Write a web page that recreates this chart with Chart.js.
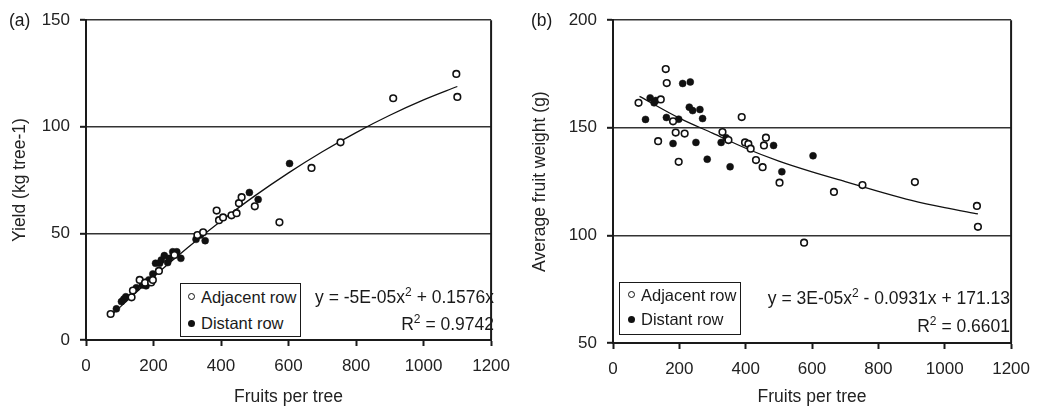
<!DOCTYPE html>
<html><head><meta charset="utf-8">
<script src="https://cdn.jsdelivr.net/npm/chart.js@4/dist/chart.umd.min.js"></script>
<style>
html,body{margin:0;padding:0;background:#fff;}
body{width:1040px;height:414px;position:relative;overflow:hidden;font-family:"Liberation Sans",Arial,sans-serif;color:#1a1a1a;}
canvas{position:absolute;top:0;}
.t{position:absolute;white-space:nowrap;line-height:1;font-size:16.5px;}
.eq{font-size:17.5px;}
.box{position:absolute;border:1.5px solid #1a1a1a;background:#fff;box-sizing:border-box;}
.mk{position:absolute;width:7px;height:7px;border-radius:50%;box-sizing:border-box;}
.op{border:1.5px solid #111;background:#fff;}
.fi{background:#111;}
sup{font-size:12px;vertical-align:0;position:relative;top:-7px;}
</style>
</head><body>
<canvas id="ca" width="520" height="414" style="left:0"></canvas>
<canvas id="cb" width="520" height="414" style="left:520px"></canvas>

<div class="t" style="left:9px;top:12px;font-size:17.5px">(a)</div>
<div class="t" style="left:531px;top:12px;font-size:17.5px">(b)</div>

<div class="box" style="left:180px;top:283px;width:121px;height:54px"></div>
<div class="mk op" style="left:188px;top:293px"></div>
<div class="t" style="left:201px;top:289px">Adjacent row</div>
<div class="mk fi" style="left:188px;top:320px"></div>
<div class="t" style="left:201px;top:315px">Distant row</div>

<div class="box" style="left:619px;top:282px;width:122px;height:53px"></div>
<div class="mk op" style="left:628px;top:291px"></div>
<div class="t" style="left:641px;top:287px">Adjacent row</div>
<div class="mk fi" style="left:628px;top:316px"></div>
<div class="t" style="left:641px;top:311px">Distant row</div>

<div class="t eq" style="right:546px;top:289px;text-align:right">y = -5E-05x<sup>2</sup> + 0.1576x</div>
<div class="t eq" style="right:546px;top:316px;text-align:right">R<sup>2</sup> = 0.9742</div>
<div class="t eq" style="right:30px;top:290px;text-align:right">y = 3E-05x<sup>2</sup> - 0.0931x + 171.13</div>
<div class="t eq" style="right:30px;top:318px;text-align:right">R<sup>2</sup> = 0.6601</div>

<script>
// ---- Panel (a): Yield vs fruits per tree ----
const leftAdjX = [73,135,139,159,175,193,198,216,262,330,347,387,394,406,431,446,453,461,500,573,668,754,910,1097,1100];
const leftAdjY = [12.2,20,23.2,28.2,26.9,27,28.2,32.4,39.9,49.2,50.5,60.7,56.2,57.5,58.5,59.5,64.2,67,62.7,55.2,80.7,92.7,113.4,124.8,114];
const leftDistX = [90,105,112,118,149,167,178,186,198,206,218,223,232,242,247,257,269,281,326,339,353,484,510,603];
const leftDistY = [14.6,18,19.2,20.3,24.5,25.8,25.4,28.2,31,36,36,37.5,39.6,36.3,38.3,41.4,41.4,38.3,47.2,49.2,46.6,69.2,65.9,82.8];
const leftTrendX = [73,100,200,300,400,500,600,700,800,900,1000,1100];
const leftTrendY = [11.3,15.3,29.7,43.2,55.8,67.6,78.4,88.3,97.3,105.4,112.6,118.9];
const leftYTicks = [0,50,100,150];

// ---- Panel (b): Average fruit weight vs fruits per tree ----
const rightAdjX = [77,136,144,159,162,181,189,198,216,330,348,388,398,408,415,431,451,455,461,502,576,666,752,910,1097,1100];
const rightAdjY = [161.6,143.8,163.2,177.3,170.8,153,147.8,134.2,147.3,148,144.3,155,143.2,142.5,140.3,135,131.7,141.8,145.4,124.5,96.6,120.2,123.4,124.8,113.7,104];
const rightDistX = [98,112,124,129,161,181,198,210,230,233,240,262,270,250,284,326,341,353,484,509,603];
const rightDistY = [153.9,163.9,161.6,162.7,154.8,142.7,154,170.6,159.6,171.3,158,158.5,154.3,143.2,135.4,143.2,145.4,131.9,141.8,129.6,137];
const rightTrendX = [80,200,300,400,500,600,700,800,900,1000,1100];
const rightTrendY = [164.6,154.5,147.5,140.5,134.5,129.5,125,120.5,116.3,112.9,110];
const rightYTicks = [50,100,150,200];

const xTicks = [0,200,400,600,800,1000,1200];
const xTitle = 'Fruits per tree';
const leftYTitle = 'Yield (kg tree-1)';
const rightYTitle = 'Average fruit weight (g)';

const pts = (xs, ys) => xs.map((x, i) => ({x, y: ys[i]}));
const TICKFONT = {family: "'Liberation Sans', Arial, sans-serif", size: 17};
const TITLEFONT = {family: "'Liberation Sans', Arial, sans-serif", size: 17.5};

const frame = {
  id: 'frame',
  afterDraw(c) {
    const a = c.chartArea, ctx = c.ctx;
    ctx.save();
    ctx.strokeStyle = '#1a1a1a';
    ctx.lineWidth = 2;
    ctx.beginPath();
    ctx.moveTo(a.right, a.top);
    ctx.lineTo(a.right, a.bottom);
    ctx.stroke();
    ctx.restore();
  }
};

function build(id, adjX, adjY, distX, distY, trX, trY, yTicks, yTitle, yW, xH, padR) {
  new Chart(document.getElementById(id), {
    type: 'scatter',
    data: {
      datasets: [
        {label: 'trend', data: pts(trX, trY), showLine: true, pointRadius: 0, borderColor: '#111', borderWidth: 1.3, cubicInterpolationMode: 'monotone', order: 3},
        {label: 'Adjacent row', data: pts(adjX, adjY), pointRadius: 3.3, pointBorderWidth: 1.6, pointBackgroundColor: '#fff', pointBorderColor: '#111', order: 1},
        {label: 'Distant row', data: pts(distX, distY), pointRadius: 3.5, pointBorderWidth: 0.5, pointBackgroundColor: '#111', pointBorderColor: '#111', order: 2}
      ]
    },
    options: {
      responsive: false, animation: false, devicePixelRatio: 1,
      layout: {padding: {left: 0, top: 19, right: padR, bottom: 0}},
      plugins: {legend: {display: false}, tooltip: {enabled: false}},
      scales: {
        x: {
          type: 'linear', min: xTicks[0], max: xTicks[xTicks.length - 1],
          afterBuildTicks: s => { s.ticks = xTicks.map(v => ({value: v})); },
          afterFit: s => { s.height = xH; },
          grid: {drawOnChartArea: false, drawTicks: true, tickLength: 6, tickColor: '#1a1a1a', tickWidth: 2},
          border: {display: true, color: '#1a1a1a', width: 2},
          ticks: {font: TICKFONT, color: '#222', padding: 10, maxRotation: 0, callback: v => String(v)},
          title: {display: true, text: xTitle, font: TITLEFONT, color: '#222', padding: {top: 0, bottom: 6}}
        },
        y: {
          type: 'linear', min: yTicks[0], max: yTicks[yTicks.length - 1],
          afterBuildTicks: s => { s.ticks = yTicks.map(v => ({value: v})); },
          afterFit: s => { s.width = yW; },
          grid: {drawOnChartArea: true, drawTicks: true, tickLength: 6, color: '#333', lineWidth: 1.6, tickColor: '#1a1a1a', tickWidth: 2},
          border: {display: true, color: '#1a1a1a', width: 2},
          ticks: {font: TICKFONT, color: '#222', padding: 10, callback: v => String(v)},
          title: {display: true, text: yTitle, font: TITLEFONT, color: '#222', padding: {top: 10, bottom: 0}}
        }
      }
    },
    plugins: [frame]
  });
}

build('ca', leftAdjX, leftAdjY, leftDistX, leftDistY, leftTrendX, leftTrendY, leftYTicks, leftYTitle, 86, 74, 25);
build('cb', rightAdjX, rightAdjY, rightDistX, rightDistY, rightTrendX, rightTrendY, rightYTicks, rightYTitle, 93, 71, 22);
</script>
</body></html>
